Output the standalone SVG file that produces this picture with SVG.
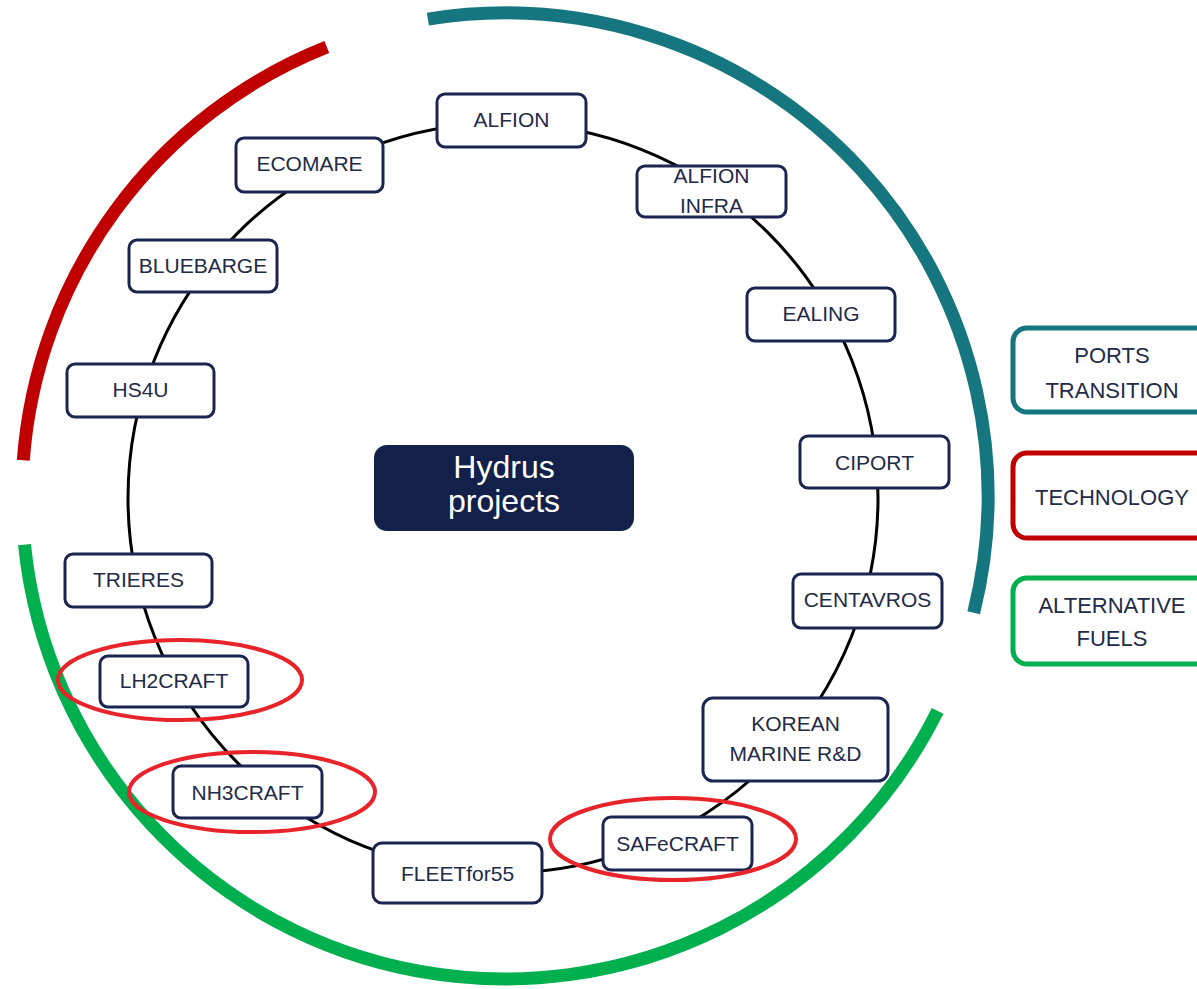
<svg xmlns="http://www.w3.org/2000/svg" width="1197" height="989" viewBox="0 0 1197 989">
<style>
.bg{fill:#ffffff}
.arc{fill:none;stroke-width:13;stroke-linecap:butt}
.conn{fill:none;stroke:#000000;stroke-width:3}
.node rect{fill:#ffffff;stroke:#1c2550;stroke-width:3}
.t{font-family:"Liberation Sans",Arial,sans-serif;font-size:21px;fill:#222a48;text-anchor:middle}
.lt{font-family:"Liberation Sans",Arial,sans-serif;font-size:22px;fill:#222a48;text-anchor:middle}
.hl{fill:none;stroke:#e8232a;stroke-width:4}
.leg{fill:#ffffff;stroke-width:5}
</style>
<rect class="bg" x="0" y="0" width="1197" height="989"/>
<g id="category-arcs">
<path class="arc" stroke="#16767f" d="M 427.9 19.2 A 483 483 0 0 1 973.7 612.7"/>
<path class="arc" stroke="#c00000" d="M 326.8 47 A 483 483 0 0 0 23.3 460.2"/>
<path class="arc" stroke="#00b04f" d="M 24.5 544.6 A 483 483 0 0 0 937.6 710.8"/>
</g>
<g id="connectors">
<circle class="conn" cx="503" cy="498" r="375"/>
</g>
<g id="center" class="node">
<rect x="374" y="445" width="260" height="86" rx="13" style="fill:#13204a;stroke:none"/>
<text x="504" y="478" style="font-family:'Liberation Sans',Arial,sans-serif;font-size:32px;fill:#ffffff;text-anchor:middle">Hydrus</text>
<text x="504" y="512" style="font-family:'Liberation Sans',Arial,sans-serif;font-size:32px;fill:#ffffff;text-anchor:middle">projects</text>
</g>
<g id="alfion" class="node"><rect x="437" y="94" width="149" height="53" rx="8"/><text class="t" x="511.5" y="127">ALFION</text></g>
<g id="alfion-infra" class="node"><rect x="637" y="166" width="149" height="51" rx="8"/><text class="t" x="711.5" y="183">ALFION</text><text class="t" x="711.5" y="213">INFRA</text></g>
<g id="ealing" class="node"><rect x="747" y="288" width="148" height="53" rx="8"/><text class="t" x="821" y="321">EALING</text></g>
<g id="ciport" class="node"><rect x="800" y="436" width="149" height="52" rx="8"/><text class="t" x="874.5" y="470">CIPORT</text></g>
<g id="centavros" class="node"><rect x="793" y="574" width="149" height="54" rx="8"/><text class="t" x="867.5" y="607">CENTAVROS</text></g>
<g id="korean-marine" class="node"><rect x="703" y="698" width="185" height="83" rx="10"/><text class="t" x="795.5" y="731">KOREAN</text><text class="t" x="795.5" y="761">MARINE R&amp;D</text></g>
<g id="safecraft" class="node"><rect x="603" y="817" width="149" height="53" rx="8"/><text class="t" x="677.5" y="851">SAFeCRAFT</text></g>
<g id="fleetfor55" class="node"><rect x="373" y="843" width="169" height="60" rx="9"/><text class="t" x="457.5" y="881">FLEETfor55</text></g>
<g id="nh3craft" class="node"><rect x="173" y="766" width="149" height="52" rx="8"/><text class="t" x="247.5" y="800">NH3CRAFT</text></g>
<g id="lh2craft" class="node"><rect x="100" y="656" width="148" height="51" rx="8"/><text class="t" x="174" y="688">LH2CRAFT</text></g>
<g id="trieres" class="node"><rect x="65" y="554" width="147" height="53" rx="8"/><text class="t" x="138.5" y="587">TRIERES</text></g>
<g id="hs4u" class="node"><rect x="67" y="364" width="147" height="53" rx="8"/><text class="t" x="140.5" y="397">HS4U</text></g>
<g id="bluebarge" class="node"><rect x="129" y="240" width="148" height="52" rx="8"/><text class="t" x="203" y="273">BLUEBARGE</text></g>
<g id="ecomare" class="node"><rect x="236" y="138" width="147" height="54" rx="8"/><text class="t" x="309.5" y="171">ECOMARE</text></g>
<g id="highlights">
<ellipse class="hl" cx="180" cy="680" rx="122" ry="40"/>
<ellipse class="hl" cx="252" cy="792" rx="123" ry="40"/>
<ellipse class="hl" cx="673" cy="839" rx="123" ry="41"/>
</g>
<g id="legend-ports"><rect class="leg" stroke="#16767f" x="1013" y="328" width="198" height="84" rx="14"/><text class="lt" x="1112" y="363">PORTS</text><text class="lt" x="1112" y="398">TRANSITION</text></g>
<g id="legend-technology"><rect class="leg" stroke="#c00000" x="1013" y="453" width="198" height="85" rx="14"/><text class="lt" x="1112" y="505">TECHNOLOGY</text></g>
<g id="legend-fuels"><rect class="leg" stroke="#00b04f" x="1013" y="578" width="198" height="86" rx="14"/><text class="lt" x="1112" y="613">ALTERNATIVE</text><text class="lt" x="1112" y="646">FUELS</text></g>
</svg>
